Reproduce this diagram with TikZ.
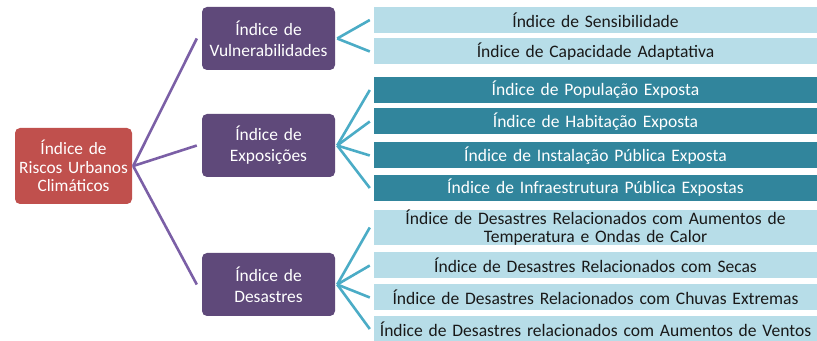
\documentclass[tikz,border=0pt]{standalone}
\usepackage{fontspec}
\setmainfont{Carlito}
\definecolor{rootred}{HTML}{C0504D}
\definecolor{midpurple}{HTML}{5F497A}
\definecolor{linepurple}{HTML}{7B5FA6}
\definecolor{lightaqua}{HTML}{B7DDE8}
\definecolor{darkaqua}{HTML}{31859C}
\definecolor{lineaqua}{HTML}{4BACC6}
\tikzset{
  rootbox/.style={fill=rootred,rounded corners=5bp,text=white,inner sep=0pt,
    minimum width=117bp,minimum height=76bp,text width=115bp,align=center,
    font=\fontsize{17.4}{18.5}\selectfont},
  midbox/.style={fill=midpurple,rounded corners=5bp,text=white,inner sep=0pt,
    minimum width=133bp,minimum height=63bp,text width=130bp,align=center,
    font=\fontsize{17.5}{21}\selectfont},
  leafbox/.style={fill=lightaqua,text=black!90,inner sep=0pt,
    minimum width=443bp,minimum height=26bp,text width=443bp,align=center,
    font=\fontsize{17.6}{18}\selectfont},
  darkleaf/.style={leafbox,fill=darkaqua,text=white},
  tallleaf/.style={leafbox,minimum height=35bp},
  purplelink/.style={draw=linepurple,line width=2.6bp},
  aqualink/.style={draw=lineaqua,line width=2.6bp},
}
\begin{document}
\begin{tikzpicture}[line join=bevel,]
\useasboundingbox (0bp,0bp) rectangle (817bp,341bp);
%%
\node (node_root) at (73.5bp,175bp) [rootbox] {Índice de\\Riscos Urbanos\\Climáticos};
  \node (node_vul) at (268.5bp,302.5bp) [midbox] {Índice de\\Vulnerabilidades};
  \node (node_exp) at (268.5bp,195.5bp) [midbox] {Índice de\\Exposições};
  \node (node_des) at (268.5bp,56.5bp) [midbox] {Índice de\\Desastres};
%
  \node (node_v1) at (595.5bp,321bp) [leafbox] {Índice de Sensibilidade};
  \node (node_v2) at (595.5bp,289.5bp) [leafbox] {Índice de Capacidade Adaptativa};
  \node (node_e1) at (595.5bp,251bp) [darkleaf] {Índice de População Exposta};
  \node (node_e2) at (595.5bp,219.5bp) [darkleaf] {Índice de Habitação Exposta};
  \node (node_e3) at (595.5bp,185.5bp) [darkleaf] {Índice de Instalação Pública Exposta};
  \node (node_e4) at (595.5bp,153bp) [darkleaf] {Índice de Infraestrutura Pública Expostas};
  \node (node_d1) at (595.5bp,113.5bp) [tallleaf] {Índice de Desastres Relacionados com Aumentos de\\Temperatura e Ondas de Calor};
  \node (node_d2) at (595.5bp,75.5bp) [leafbox] {Índice de Desastres Relacionados com Secas};
  \node (node_d3) at (595.5bp,43.5bp) [leafbox] {Índice de Desastres Relacionados com Chuvas Extremas};
  \node (node_d4) at (595.5bp,12bp) [leafbox] {Índice de Desastres relacionados com Aumentos de Ventos};
%%
  \draw [purplelink] ([xshift=1bp]node_root.east) -- ([xshift=-5bp]node_vul.west);
  \draw [purplelink] ([xshift=1bp]node_root.east) -- ([xshift=-5bp]node_exp.west);
  \draw [purplelink] ([xshift=1bp]node_root.east) -- ([xshift=-5bp]node_des.west);
  \draw [aqualink] ([xshift=2bp]node_vul.east) -- ([xshift=-4bp]node_v1.west);
  \draw [aqualink] ([xshift=2bp]node_vul.east) -- ([xshift=-4bp]node_v2.west);
  \draw [aqualink] ([xshift=2bp]node_exp.east) -- ([xshift=-4bp]node_e1.west);
  \draw [aqualink] ([xshift=2bp]node_exp.east) -- ([xshift=-4bp]node_e2.west);
  \draw [aqualink] ([xshift=2bp]node_exp.east) -- ([xshift=-4bp]node_e3.west);
  \draw [aqualink] ([xshift=2bp]node_exp.east) -- ([xshift=-4bp]node_e4.west);
  \draw [aqualink] ([xshift=2bp]node_des.east) -- ([xshift=-4bp]node_d1.west);
  \draw [aqualink] ([xshift=2bp]node_des.east) -- ([xshift=-4bp]node_d2.west);
  \draw [aqualink] ([xshift=2bp]node_des.east) -- ([xshift=-4bp]node_d3.west);
  \draw [aqualink] ([xshift=2bp]node_des.east) -- ([xshift=-4bp]node_d4.west);
%
\end{tikzpicture}
\end{document}
